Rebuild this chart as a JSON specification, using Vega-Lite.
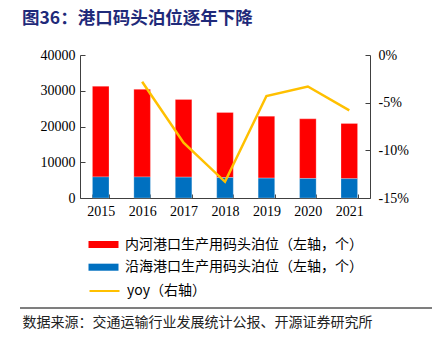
{
  "$schema": "https://vega.github.io/schema/vega-lite/v6.json",
  "width": 290,
  "height": 143,
  "autosize": {"type": "none"},
  "padding": {"left": 80, "top": 55, "right": 70, "bottom": 153},
  "background": "white",
  "config": {
    "view": {"stroke": null},
    "axis": {"grid": false, "domainColor": "#404040", "tickColor": "#404040", "labelFont": "Liberation Serif", "labelFontSize": 14, "labelColor": "#000"}
  },
  "title": {
    "text": "图36：港口码头泊位逐年下降",
    "font": "Noto Sans CJK SC",
    "fontSize": 17.5,
    "fontWeight": "bold",
    "color": "#1F2A7A",
    "anchor": "start",
    "frame": "group",
    "dx": -58,
    "offset": 21
  },
  "layer": [
    {
      "data": {"values": [
        {"year": "2015", "series": "内河港口生产用码头泊位（左轴，个）", "value": 25360},
        {"year": "2015", "series": "沿海港口生产用码头泊位（左轴，个）", "value": 5899},
        {"year": "2016", "series": "内河港口生产用码头泊位（左轴，个）", "value": 24501},
        {"year": "2016", "series": "沿海港口生产用码头泊位（左轴，个）", "value": 5887},
        {"year": "2017", "series": "内河港口生产用码头泊位（左轴，个）", "value": 21748},
        {"year": "2017", "series": "沿海港口生产用码头泊位（左轴，个）", "value": 5830},
        {"year": "2018", "series": "内河港口生产用码头泊位（左轴，个）", "value": 18185},
        {"year": "2018", "series": "沿海港口生产用码头泊位（左轴，个）", "value": 5734},
        {"year": "2019", "series": "内河港口生产用码头泊位（左轴，个）", "value": 17331},
        {"year": "2019", "series": "沿海港口生产用码头泊位（左轴，个）", "value": 5562},
        {"year": "2020", "series": "内河港口生产用码头泊位（左轴，个）", "value": 16681},
        {"year": "2020", "series": "沿海港口生产用码头泊位（左轴，个）", "value": 5461},
        {"year": "2021", "series": "内河港口生产用码头泊位（左轴，个）", "value": 15448},
        {"year": "2021", "series": "沿海港口生产用码头泊位（左轴，个）", "value": 5419}
      ]},
      "mark": {"type": "bar", "stroke": "white", "strokeWidth": 0.5, "strokeOpacity": 0.5},
      "encoding": {
        "x": {
          "field": "year", "type": "ordinal",
          "scale": {"paddingInner": 0.6, "paddingOuter": 0.3},
          "axis": {
            "labelAngle": 0, "labelPadding": 10, "tickBand": "extent", "tickSize": -4,
            "title": "数据来源：交通运输行业发展统计公报、开源证券研究所",
            "titleFont": "Noto Sans CJK SC", "titleFontSize": 14, "titleFontWeight": "normal", "titleColor": "#222",
            "titleX": -58, "titleY": 124, "titleAlign": "left", "titleAnchor": "start", "titleBaseline": "middle"
          }
        },
        "y": {
          "field": "value", "type": "quantitative", "aggregate": "sum",
          "scale": {"domain": [0, 40000]},
          "axis": {"title": null, "values": [0, 10000, 20000, 30000, 40000], "tickSize": -5, "labelPadding": 10, "format": "d"}
        },
        "color": {
          "field": "series", "type": "nominal",
          "scale": {"domain": ["内河港口生产用码头泊位（左轴，个）", "沿海港口生产用码头泊位（左轴，个）"], "range": ["#FF0000", "#0070C0"]},
          "legend": {
            "title": null, "orient": "none", "legendX": 16, "legendY": 182,
            "symbolType": "M-2,-0.47H2V0.47H-2Z", "symbolSize": 225, "symbolStrokeWidth": 0,
            "labelFont": "Noto Sans CJK SC", "labelFontSize": 14, "labelColor": "#000", "labelOffset": 14,
            "rowPadding": 7.7, "labelLimit": 400
          }
        },
        "order": {"field": "series", "sort": "descending"}
      }
    },
    {
      "data": {"values": [
        {"year": "2016", "name": "yoy（右轴）", "yoy": -0.028},
        {"year": "2017", "name": "yoy（右轴）", "yoy": -0.092},
        {"year": "2018", "name": "yoy（右轴）", "yoy": -0.133},
        {"year": "2019", "name": "yoy（右轴）", "yoy": -0.043},
        {"year": "2020", "name": "yoy（右轴）", "yoy": -0.033},
        {"year": "2021", "name": "yoy（右轴）", "yoy": -0.058}
      ]},
      "mark": {"type": "line", "strokeWidth": 2.5},
      "encoding": {
        "x": {"field": "year", "type": "ordinal"},
        "y": {
          "field": "yoy", "type": "quantitative",
          "scale": {"domain": [-0.15, 0]},
          "axis": {"orient": "right", "title": null, "values": [0, -0.05, -0.1, -0.15], "tickSize": -5, "labelPadding": 13,
            "labelExpr": "replace(format(datum.value, '.0%'), '−', '-')"}
        },
        "stroke": {
          "field": "name", "type": "nominal",
          "scale": {"range": ["#FFC000"]},
          "legend": {
            "title": null, "orient": "none", "legendX": 16, "legendY": 227.5,
            "symbolType": "M-2,0H2", "symbolSize": 225, "symbolStrokeWidth": 2,
            "labelFont": "Noto Sans CJK SC", "labelFontSize": 14, "labelColor": "#000", "labelOffset": 14
          }
        }
      }
    },
    {
      "data": {"values": [{"pos": "top"}, {"pos": "bottom"}]},
      "mark": {"type": "rule", "color": "#555", "strokeWidth": 1},
      "encoding": {
        "x": {"value": -60},
        "x2": {"value": 352},
        "y": {"condition": {"test": "datum.pos === 'top'", "value": -23}, "value": 253}
      }
    }
  ],
  "resolve": {"scale": {"y": "independent", "color": "independent", "stroke": "independent"}}
}
